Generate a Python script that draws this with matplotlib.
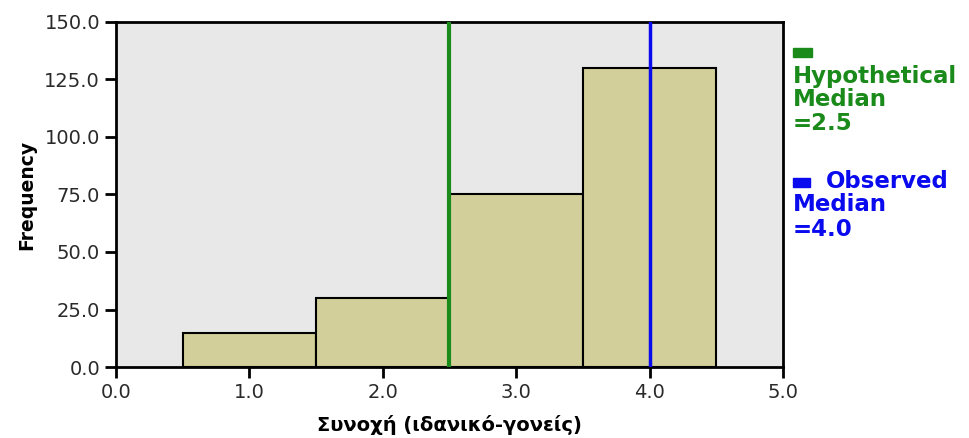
import matplotlib.pyplot as plt
from matplotlib.patches import Rectangle

# Data
bin_centers = [1.0, 2.0, 3.0, 4.0]
frequencies = [15, 30, 75, 130]
hyp_median = 2.5
obs_median = 4.0
x_ticks = [0.0, 1.0, 2.0, 3.0, 4.0, 5.0]
y_ticks = [0.0, 25.0, 50.0, 75.0, 100.0, 125.0, 150.0]

GREEN = '#1a8a1a'
BLUE = '#0a0aee'
W, H = 969, 438

fig = plt.figure(figsize=(9.69, 4.38), dpi=100)
ax = fig.add_axes([0.1197, 0.162, 0.6883, 0.788])
ax.set_facecolor('#e8e8e8')

ax.bar(bin_centers, frequencies, width=1.0, color='#d3cf9a',
       edgecolor='black', linewidth=1.5, zorder=2)
ax.axvline(hyp_median, color=GREEN, linewidth=3, zorder=3)
ax.axvline(obs_median, color=BLUE, linewidth=2.5, zorder=3)

ax.set_xlim(0, 5)
ax.set_ylim(0, 150)
ax.set_xticks(x_ticks)
ax.set_xticklabels([f'{v:.1f}' for v in x_ticks])
ax.set_yticks(y_ticks)
ax.set_yticklabels([f'{v:.1f}' for v in y_ticks])
ax.tick_params(direction='out', length=8, width=2, labelsize=14,
               labelcolor='#2a2a2a')
for s in ax.spines.values():
    s.set_linewidth(2)

ax.set_xlabel('Συνοχή (ιδανικό-γονείς)', fontsize=14, fontweight='bold',
              labelpad=9)
ax.set_ylabel('Frequency', fontsize=13.5, fontweight='bold', labelpad=6)

# Legend-like annotations on the right (pixel positions from the reference)
def px(x, y):
    return x / W, 1 - y / H

fig.patches.append(Rectangle(px(793, 57), 19 / W, 9 / H, color=GREEN,
                             transform=fig.transFigure))
fig.patches.append(Rectangle(px(793, 187), 17 / W, 9 / H, color=BLUE,
                             transform=fig.transFigure))

legend_lines = [
    ('Hypothetical', 793, 77, GREEN),
    ('Median', 793, 100, GREEN),
    ('=2.5', 793, 124, GREEN),
    ('Observed', 826, 182, BLUE),
    ('Median', 793, 205, BLUE),
    ('=4.0', 793, 230, BLUE),
]
for txt, x, y, c in legend_lines:
    fx, fy = px(x, y)
    fig.text(fx, fy, txt, color=c, fontsize=16.5, fontweight='bold',
             va='center', ha='left')

fig.savefig('out.png', dpi=100)
